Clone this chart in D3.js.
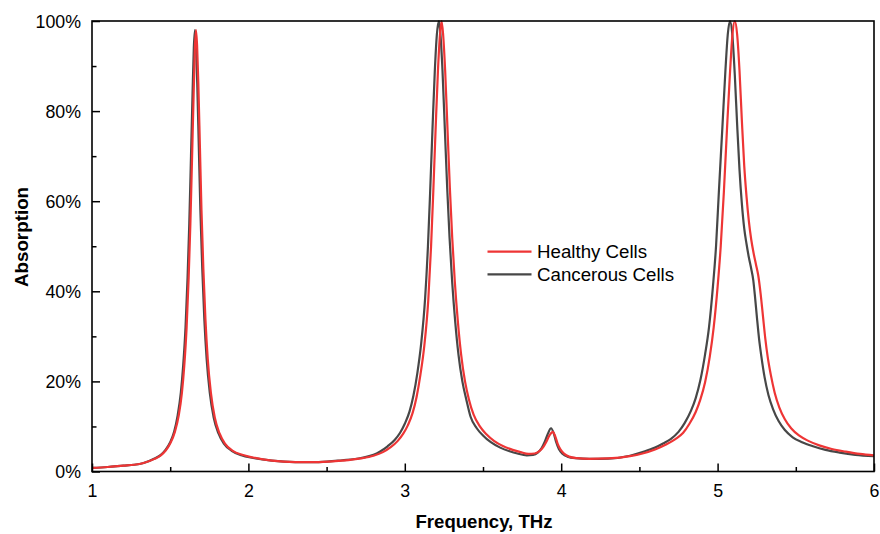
<!DOCTYPE html>
<html><head><meta charset="utf-8">
<script src="https://cdn.jsdelivr.net/npm/d3@7"></script>
<style>body{margin:0;background:#fff}svg{display:block}text{font-family:"Liberation Sans",Arial,sans-serif}</style>
</head><body>
<svg id="c" width="880" height="534"></svg>
<script>
// ---- data (frequency THz, absorption %) ----
const healthyFreq = [1.00,1.10,1.20,1.27,1.33,1.40,1.44,1.47,1.50,1.53,1.555,1.575,1.59,1.605,1.618,1.629,1.64,1.65,1.658,1.665,1.672,1.68,1.69,1.70,1.712,1.725,1.74,1.76,1.785,1.815,1.85,1.90,1.96,2.03,2.15,2.30,2.45,2.60,2.72,2.80,2.86,2.91,2.955,2.99,3.02,3.05,3.075,3.10,3.125,3.15,3.168,3.182,3.197,3.212,3.225,3.235,3.245,3.258,3.273,3.288,3.303,3.32,3.34,3.36,3.385,3.41,3.44,3.48,3.52,3.57,3.63,3.69,3.74,3.79,3.83,3.86,3.885,3.905,3.925,3.946,3.962,3.977,3.995,4.02,4.05,4.10,4.18,4.30,4.44,4.52,4.60,4.67,4.73,4.78,4.82,4.86,4.89,4.92,4.95,4.975,5.00,5.02,5.04,5.06,5.08,5.095,5.11,5.125,5.14,5.155,5.17,5.185,5.20,5.215,5.23,5.245,5.26,5.275,5.29,5.305,5.32,5.34,5.365,5.395,5.43,5.47,5.52,5.58,5.65,5.73,5.82,5.91,6.00];
const healthyAbs  = [0.8,1.0,1.3,1.5,1.9,2.8,3.6,4.6,6.2,8.8,12.5,17.5,23.5,32,43,55,70,84,94,98,94.5,86,72,58,45,34,25,17.5,12,8.5,6.2,4.6,3.7,3.1,2.4,2.1,2.1,2.4,2.9,3.5,4.3,5.4,6.8,8.4,10.3,13,16.5,21.5,28,38,50,62,76,89,97,100,97,89,76,63,52,42,33,26,20,16,12.6,10.0,8.3,6.8,5.6,4.8,4.3,3.9,4.0,4.5,5.4,6.6,8.0,8.8,7.8,6.2,4.9,3.9,3.3,2.95,2.8,2.9,3.4,4.0,4.9,6.0,7.2,8.6,10.6,13.2,16.0,19.8,25.5,32,41,50,62,76,89,97,100,97,89,78,68,61,55.5,51.5,48.5,46,43.5,39.5,34.5,29.5,25.5,21.5,17.5,14.2,11.6,9.6,8.0,6.8,5.8,5.0,4.4,3.9,3.6];

const cancerFreq = [1.00,1.10,1.20,1.27,1.33,1.40,1.44,1.47,1.50,1.525,1.548,1.568,1.583,1.598,1.611,1.622,1.633,1.643,1.651,1.658,1.665,1.673,1.683,1.693,1.705,1.718,1.733,1.753,1.778,1.808,1.843,1.893,1.955,2.03,2.15,2.30,2.45,2.60,2.72,2.80,2.84,2.89,2.935,2.97,3.00,3.03,3.055,3.08,3.105,3.13,3.148,3.162,3.177,3.192,3.205,3.218,3.228,3.241,3.256,3.271,3.286,3.303,3.323,3.343,3.368,3.393,3.42,3.46,3.50,3.55,3.61,3.67,3.72,3.78,3.82,3.85,3.875,3.895,3.915,3.935,3.952,3.967,3.985,4.01,4.04,4.09,4.18,4.30,4.44,4.52,4.60,4.65,4.70,4.75,4.79,4.83,4.86,4.89,4.92,4.945,4.97,4.99,5.008,5.03,5.05,5.065,5.079,5.094,5.11,5.125,5.14,5.155,5.17,5.185,5.20,5.215,5.228,5.24,5.252,5.265,5.28,5.30,5.325,5.355,5.39,5.43,5.48,5.54,5.61,5.69,5.78,5.88,6.00];
const cancerAbs  = [0.8,1.0,1.3,1.5,1.9,2.9,3.7,4.8,6.5,8.8,12.5,17.5,23.5,32,43,55,70,84,94,98,94.5,86,72,58,45,34,25,17.5,12,8.5,6.2,4.6,3.6,3.0,2.4,2.1,2.1,2.5,3.0,3.7,4.4,5.6,7.0,8.6,10.6,13.3,16.8,21.8,28.5,38.5,50,62,76,89,97,100,97,89,76,63,52,42,33,26,20,16,12.2,9.6,8.0,6.5,5.3,4.5,4.0,3.6,3.7,4.2,5.2,6.6,8.4,9.6,8.5,6.6,5.0,3.9,3.3,2.95,2.8,2.85,3.5,4.3,5.3,6.2,7.2,8.8,10.8,13.5,16.3,20.3,26,32,41,50,62,76,89,97,100,97,88,77,67,59.5,54,50.5,47.5,45,42.5,38.5,34,29.5,25.5,21,17,13.8,11.2,9.2,7.6,6.5,5.6,4.8,4.2,3.7,3.4];

const xTicks = [1,2,3,4,5,6];
const xMinor = [1.5,2.5,3.5,4.5,5.5];
const yTicks = [0,20,40,60,80,100];
const yMinor = [10,30,50,70,90];
const seriesNames = ["Healthy Cells","Cancerous Cells"];
const seriesColors = ["#ee3535","#474747"];

// ---- layout ----
const svg = d3.select("#c");
const L = 92, R = 874, T = 21, B = 471.5;
const x = d3.scaleLinear().domain([1,6]).range([L,R]);
const y = d3.scaleLinear().domain([0,100]).range([B,T]);

const line = d3.line().x(d=>x(d[0])).y(d=>y(d[1])).curve(d3.curveMonotoneX);
const cancer = cancerFreq.map((f,i)=>[f,cancerAbs[i]]);
const healthy = healthyFreq.map((f,i)=>[f,healthyAbs[i]]);

svg.append("path").attr("d",line(cancer)).attr("fill","none")
  .attr("stroke",seriesColors[1]).attr("stroke-width",2.2).attr("stroke-linejoin","round");
svg.append("path").attr("d",line(healthy)).attr("fill","none")
  .attr("stroke",seriesColors[0]).attr("stroke-width",2.2).attr("stroke-linejoin","round");

// axes (ticks inward)
const fmtPct = d=>d+"%";
const gx = svg.append("g").attr("transform",`translate(0,${B})`)
  .call(d3.axisBottom(x).tickValues(xTicks).tickSize(-8).tickPadding(13).tickFormat(d3.format("d")));
const gxm = svg.append("g").attr("transform",`translate(0,${B})`)
  .call(d3.axisBottom(x).tickValues(xMinor).tickSize(-4.5).tickFormat(""));
const gy = svg.append("g").attr("transform",`translate(${L},0)`)
  .call(d3.axisLeft(y).tickValues(yTicks).tickSize(-8).tickPadding(11).tickFormat(fmtPct));
const gym = svg.append("g").attr("transform",`translate(${L},0)`)
  .call(d3.axisLeft(y).tickValues(yMinor).tickSize(-4.5).tickFormat(""));
[gx,gxm,gy,gym].forEach(g=>{
  g.select(".domain").remove();
  g.selectAll(".tick line").attr("stroke","#000").attr("stroke-width",1.5);
  g.selectAll("text").attr("fill","#000").style("font-size","17.8px").attr("font-family","Liberation Sans, Arial, sans-serif");
});
gy.selectAll("text").attr("dy","0.36em");
gx.selectAll("text").attr("dy","0.71em");

// frame
svg.append("rect").attr("x",L).attr("y",T).attr("width",R-L).attr("height",B-T)
  .attr("fill","none").attr("stroke","#000").attr("stroke-width",1.6);

// axis titles
svg.append("text").attr("x",484).attr("y",528).attr("text-anchor","middle")
  .style("font-size","18.6px").style("font-weight","bold").text("Frequency, THz");
svg.append("text").attr("transform",`translate(28,237) rotate(-90)`).attr("text-anchor","middle")
  .style("font-size","18.8px").style("font-weight","bold").text("Absorption");

// legend
const leg = svg.append("g");
seriesNames.forEach((n,i)=>{
  const yy = 251.7 + i*22.6;
  leg.append("line").attr("x1",487.5).attr("x2",531.5).attr("y1",yy).attr("y2",yy)
    .attr("stroke",seriesColors[i]).attr("stroke-width",2.2);
  leg.append("text").attr("x",537).attr("y",yy).attr("dy","0.36em")
    .style("font-size","18.7px").text(n);
});
</script>
</body></html>
